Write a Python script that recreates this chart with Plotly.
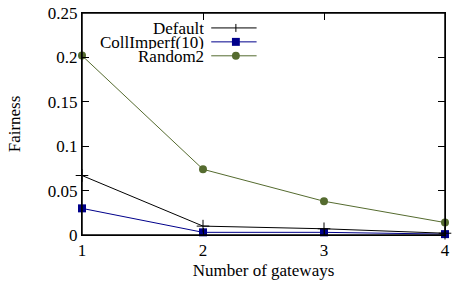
import plotly.graph_objects as go

gateways = [1, 2, 3, 4]
default_vals = [0.067, 0.010, 0.007, 0.002]
collimperf_vals = [0.030, 0.003, 0.003, 0.001]
random2_vals = [0.202, 0.074, 0.038, 0.014]
names = ["Default", "CollImperf(10)", "Random2"]
colors = ["#000000", "#00008b", "#556b2f"]

FONT = "Liberation Serif, DejaVu Serif, serif"
FS = 17
fig = go.Figure()
fig.add_trace(go.Scatter(x=gateways, y=random2_vals, mode="lines+markers", name=names[2],
                         line=dict(color=colors[2], width=1),
                         marker=dict(symbol="circle", size=8, color=colors[2]), cliponaxis=False))
fig.add_trace(go.Scatter(x=gateways, y=collimperf_vals, mode="lines+markers", name=names[1],
                         line=dict(color=colors[1], width=1),
                         marker=dict(symbol="square", size=8, color=colors[1]), cliponaxis=False))
fig.add_trace(go.Scatter(x=gateways, y=default_vals, mode="lines+markers", name=names[0],
                         line=dict(color=colors[0], width=1),
                         marker=dict(symbol="cross-thin", size=9, line=dict(color=colors[0], width=1)),
                         cliponaxis=False))

W, H = 454, 284
L, R, T, B = 82, 4, 12, 49
pw, ph = W - L - R, H - T - B

def px(x):
    return (x - L) / pw

def py(y):
    return 1 - (y - T) / ph

ann = []
shapes = [dict(type="rect", xref="paper", yref="paper", x0=0, x1=1, y0=0, y1=1,
               line=dict(color="black", width=1.5), layer="above")]
rows = [27, 41, 55]
markers = ["plus", "square", "circle"]
for name, color, yy, mk in zip(names, colors, rows, markers):
    ann.append(dict(x=px(208), y=py(yy), xref="paper", yref="paper", text=name, showarrow=False,
                    xanchor="right", yanchor="middle", height=14, valign="middle",
                    font=dict(family=FONT, size=FS, color="black")))
    shapes.append(dict(type="line", xref="paper", yref="paper", x0=px(213), x1=px(259), y0=py(yy), y1=py(yy),
                       line=dict(color=color, width=1)))
    cx, cy = 238, yy
    if mk == "plus":
        shapes.append(dict(type="line", xref="paper", yref="paper", x0=px(cx), x1=px(cx), y0=py(cy - 4), y1=py(cy + 4),
                           line=dict(color=color, width=1)))
    elif mk == "square":
        shapes.append(dict(type="rect", xref="paper", yref="paper", x0=px(cx - 4), x1=px(cx + 4), y0=py(cy + 4), y1=py(cy - 4),
                           line=dict(color=color, width=0), fillcolor=color))
    else:
        shapes.append(dict(type="circle", xref="paper", yref="paper", x0=px(cx - 4), x1=px(cx + 4), y0=py(cy + 4), y1=py(cy - 4),
                           line=dict(color=color, width=0), fillcolor=color))

fig.update_layout(
    width=W, height=H,
    margin=dict(l=L, r=R, t=T, b=B),
    paper_bgcolor="white", plot_bgcolor="white",
    showlegend=False,
    font=dict(family=FONT, size=FS, color="black"),
    annotations=ann, shapes=shapes,
    xaxis=dict(range=[1, 4], tickvals=[1, 2, 3, 4], ticks="inside", ticklen=7, tickcolor="black",
               showline=True, linecolor="black", linewidth=1, mirror="allticks", showgrid=False, zeroline=False,
               ticklabeloverflow="allow",
               title=dict(text="Number of gateways", font=dict(family=FONT, size=FS), standoff=4),
               tickfont=dict(family=FONT, size=FS)),
    yaxis=dict(range=[0, 0.25], tickvals=[0, 0.05, 0.1, 0.15, 0.2, 0.25], ticktext=["0", "0.05", "0.1", "0.15", "0.2", "0.25"],
               ticks="inside", ticklen=7, tickcolor="black",
               showline=True, linecolor="black", linewidth=1, mirror="allticks", showgrid=False, zeroline=False,
               title=dict(text="Fairness", font=dict(family=FONT, size=FS), standoff=22),
               tickfont=dict(family=FONT, size=FS)),
)
fig.write_html("out.html", config={"displayModeBar": False},
               post_script="document.body.style.margin='0';document.body.style.padding='0';")
